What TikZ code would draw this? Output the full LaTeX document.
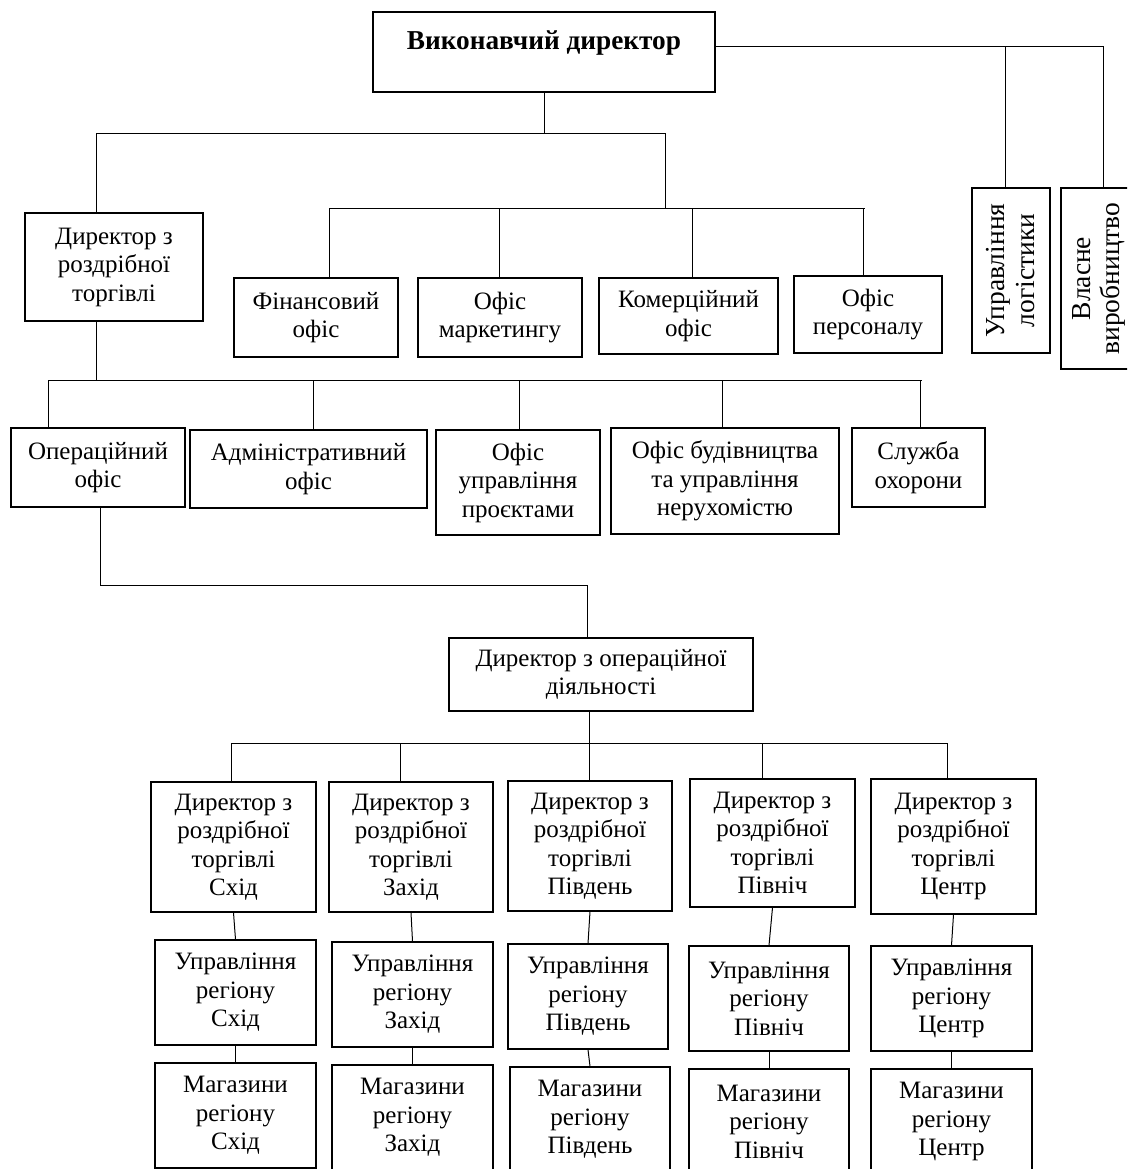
\documentclass[tikz,border=0pt]{standalone}
\usepackage{fontspec}
\setmainfont{Liberation Serif}
\begin{document}
\begin{tikzpicture}[x=1pt,y=-1pt,
  box/.style={draw, line width=1.3pt, inner sep=0pt, align=center,
              font=\fontsize{25}{28.5}\selectfont},
  vbox/.style={box, rotate=90, font=\fontsize{27.5}{30}\selectfont},
  link/.style={line width=1pt}]
\clip (0,0) rectangle (1127,1169);
\fill[white] (0,0) rectangle (1127,1169);

% --- top level ---
\node[box, minimum width=342, text height=38, text depth=42, inner ysep=0pt,
      anchor=base, font=\fontsize{27.3}{30}\selectfont\bfseries] (ceo) at (544,50)
      {Виконавчий директор};

\node[vbox, minimum width=165, minimum height=78] (logi) at (1011,270.5)
      {Управління\\логістики};
\node[vbox, minimum width=181, minimum height=76, font=\fontsize{27.5}{29}\selectfont]
      (own) at (1099,278.5)
      {Власне\\виробництво};

% --- second level ---
\node[box, minimum width=178, minimum height=108] (rdir) at (114,267)
      {Директор з\\роздрібної\\торгівлі};
\node[box, minimum width=164, minimum height=79] (fin) at (316,317.5)
      {Фінансовий\\офіс};
\node[box, minimum width=164, minimum height=79] (mkt) at (500,317.5)
      {Офіс\\маркетингу};
\node[box, minimum width=179, minimum height=76] (com) at (688.5,316)
      {Комерційний\\офіс};
\node[box, minimum width=148, minimum height=77] (hr) at (868,314.5)
      {Офіс\\персоналу};

% --- retail offices ---
\node[box, minimum width=174, minimum height=79] (ops) at (98,467.5)
      {Операційний\\офіс};
\node[box, minimum width=237, minimum height=78] (adm) at (308.5,469)
      {Адміністративний\\офіс};
\node[box, minimum width=164, minimum height=105] (proj) at (518,482.5)
      {Офіс\\управління\\проєктами};
\node[box, minimum width=228, minimum height=106] (cons) at (725,481)
      {Офіс будівництва\\та управління\\нерухомістю};
\node[box, minimum width=133, minimum height=79] (sec) at (918.5,467.5)
      {Служба\\охорони};

% --- operations ---
\node[box, minimum width=304, minimum height=73] (opdir) at (601,674.5)
      {Директор з операційної\\діяльності};

% --- regional directors ---
\node[box, minimum width=165, minimum height=130] (d1) at (233.5,847)
      {Директор з\\роздрібної\\торгівлі\\Схід};
\node[box, minimum width=164, minimum height=130] (d2) at (411,847)
      {Директор з\\роздрібної\\торгівлі\\Захід};
\node[box, minimum width=164, minimum height=130] (d3) at (590,846)
      {Директор з\\роздрібної\\торгівлі\\Південь};
\node[box, minimum width=165, minimum height=128] (d4) at (772.5,843)
      {Директор з\\роздрібної\\торгівлі\\Північ};
\node[box, minimum width=165, minimum height=135] (d5) at (953.5,846.5)
      {Директор з\\роздрібної\\торгівлі\\Центр};

% --- regional management ---
\node[box, minimum width=161, minimum height=105] (m1) at (235.5,992.5)
      {Управління\\регіону\\Схід};
\node[box, minimum width=161, minimum height=105] (m2) at (412.5,994.5)
      {Управління\\регіону\\Захід};
\node[box, minimum width=160, minimum height=105] (m3) at (588,996.5)
      {Управління\\регіону\\Південь};
\node[box, minimum width=160, minimum height=105] (m4) at (769,998.5)
      {Управління\\регіону\\Північ};
\node[box, minimum width=161, minimum height=105] (m5) at (951.5,998.5)
      {Управління\\регіону\\Центр};

% --- regional shops ---
\node[box, minimum width=161, minimum height=105] (s1) at (235.5,1115.5)
      {Магазини\\регіону\\Схід};
\node[box, minimum width=161, minimum height=105] (s2) at (412.5,1117.5)
      {Магазини\\регіону\\Захід};
\node[box, minimum width=160, minimum height=105] (s3) at (590,1119.5)
      {Магазини\\регіону\\Південь};
\node[box, minimum width=160, minimum height=105] (s4) at (769,1121.5)
      {Магазини\\регіону\\Північ};
\node[box, minimum width=161, minimum height=105] (s5) at (951.5,1121.5)
      {Магазини\\регіону\\Центр};

% --- bus junctions ---
\coordinate (rbusL) at (715,47);
\coordinate (tapLogi) at (1005,47);
\coordinate (rbusR) at (1103,47);

\coordinate (bus1) at (544,134);
\coordinate (bus1L) at (96,134);
\coordinate (bus1R) at (665,134);

\coordinate (bus2L) at (329,208);
\coordinate (tapMkt) at (499,208);
\coordinate (tapCom) at (692,208);
\coordinate (bus2R) at (865,208);
\coordinate (tapHr) at (863,208);

\coordinate (bus3) at (96,380);
\coordinate (bus3L) at (48,380);
\coordinate (tapAdm) at (313,380);
\coordinate (tapProj) at (519,380);
\coordinate (tapCons) at (722,380);
\coordinate (bus3R) at (922,380);
\coordinate (tapSec) at (920,380);

\coordinate (opsTap) at (100,585);
\coordinate (opsElbow) at (587,585);

\coordinate (bus4L) at (231,743);
\coordinate (tapD2) at (400,743);
\coordinate (bus4) at (589,743);
\coordinate (tapD4) at (762,743);
\coordinate (bus4R) at (947,743);

% --- connectors ---
\draw[link] (rbusL) -- (rbusR) -- (rbusR |- own.east);
\draw[link] (tapLogi) -- (tapLogi |- logi.east);

\draw[link] (ceo.south) -- (bus1);
\draw[link] (rdir.north -| bus1L) -- (bus1L) -- (bus1R) -- (bus1R |- bus2R);
\draw[link] (fin.north -| bus2L) -- (bus2L) -- (bus2R);
\draw[link] (tapMkt) -- (tapMkt |- mkt.north);
\draw[link] (tapCom) -- (tapCom |- com.north);
\draw[link] (tapHr) -- (tapHr |- hr.north);

\draw[link] (rdir.south -| bus3) -- (bus3);
\draw[link] (ops.north -| bus3L) -- (bus3L) -- (bus3R);
\draw[link] (tapAdm) -- (tapAdm |- adm.north);
\draw[link] (tapProj) -- (tapProj |- proj.north);
\draw[link] (tapCons) -- (tapCons |- cons.north);
\draw[link] (tapSec) -- (tapSec |- sec.north);

\draw[link] (ops.south -| opsTap) -- (opsTap) -- (opsElbow) -- (opsElbow |- opdir.north);

\draw[link] (opdir.south -| bus4) -- (bus4);
\draw[link] (d1.north -| bus4L) -- (bus4L) -- (bus4R) -- (bus4R |- d5.north);
\draw[link] (tapD2) -- (tapD2 |- d2.north);
\draw[link] (bus4) -- (bus4 |- d3.north);
\draw[link] (tapD4) -- (tapD4 |- d4.north);

\foreach \i in {1,...,5} {
  \draw[link] (d\i.south) -- (m\i.north);
  \draw[link] (m\i.south) -- (s\i.north);
}
\end{tikzpicture}
\end{document}
